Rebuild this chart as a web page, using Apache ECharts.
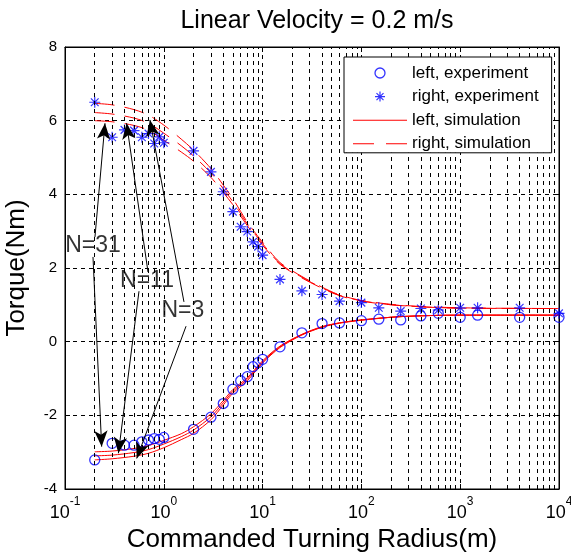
<!DOCTYPE html>
<html>
<head>
<meta charset="utf-8">
<script src="https://cdn.jsdelivr.net/npm/echarts@6/dist/echarts.min.js"></script>
<style>
  html, body { margin: 0; padding: 0; background: #fff; }
  #chart { width: 571px; height: 554px; }
</style>
</head>
<body>
<div id="chart"></div>
<script>
// Commanded turning radius (m) of each experiment run
const radius = [0.2, 0.3, 0.4, 0.5, 0.6, 0.7, 0.8, 0.9, 1,
                2, 3, 4, 5, 6, 7, 8, 9, 10,
                15, 25, 40, 60, 100, 150, 250, 400, 600, 1000, 1500, 4000, 10000];
// Measured wheel torque (Nm)
const leftExperiment = [-3.21, -2.76, -2.81, -2.81, -2.72, -2.67, -2.63, -2.65, -2.60,
                        -2.38, -2.05, -1.68, -1.29, -1.06, -0.95, -0.68, -0.57, -0.48,
                        -0.14, 0.24, 0.49, 0.51, 0.57, 0.61, 0.59, 0.70, 0.77, 0.66, 0.72, 0.66, 0.66];
const rightExperiment = [6.50, 5.55, 5.75, 5.73, 5.55, 5.65, 5.38, 5.56, 5.40,
                         5.18, 4.61, 4.07, 3.53, 3.12, 2.99, 2.71, 2.58, 2.35,
                         1.69, 1.38, 1.28, 1.10, 1.06, 0.92, 0.83, 0.90, 0.86, 0.92, 0.92, 0.92, 0.77];

// Simulated torque for N = 3, 11, 31
const simRadius = [0.2, 0.3, 0.5, 0.7, 1, 1.5, 2, 3, 4, 5, 7, 10, 15, 25, 40, 60, 100, 250, 1000, 10000];
const rightSimN3  = [6.47, 6.43, 6.30, 6.15, 5.88, 5.50, 5.20, 4.70, 4.25, 3.88, 3.25, 2.70, 2.15, 1.77, 1.48, 1.27, 1.12, 0.99, 0.92, 0.90];
const rightSimN11 = [6.22, 6.18, 6.07, 5.93, 5.66, 5.32, 5.04, 4.58, 4.15, 3.80, 3.20, 2.66, 2.12, 1.75, 1.46, 1.26, 1.11, 0.98, 0.91, 0.90];
const rightSimN31 = [6.00, 5.97, 5.87, 5.74, 5.47, 5.15, 4.90, 4.46, 4.05, 3.72, 3.15, 2.62, 2.10, 1.73, 1.45, 1.25, 1.10, 0.98, 0.91, 0.90];
const leftSimN31  = [-2.99, -2.97, -2.90, -2.82, -2.68, -2.50, -2.31, -1.96, -1.60, -1.30, -0.98, -0.52, -0.12, 0.20, 0.41, 0.51, 0.59, 0.68, 0.72, 0.72];
const leftSimN11  = [-3.10, -3.08, -3.01, -2.93, -2.78, -2.58, -2.40, -2.04, -1.66, -1.35, -1.02, -0.55, -0.14, 0.19, 0.40, 0.51, 0.59, 0.68, 0.72, 0.72];
const leftSimN3   = [-3.21, -3.18, -3.11, -3.03, -2.88, -2.66, -2.49, -2.12, -1.72, -1.40, -1.06, -0.58, -0.16, 0.18, 0.39, 0.50, 0.58, 0.68, 0.72, 0.72];

// Curve labels and the arrows that point from them to the curves
const curveLabels = [
  { text: 'N=31', at: [0.192, 2.60] },
  { text: 'N=11', at: [0.676, 1.65] },
  { text: 'N=3',  at: [1.56, 0.83] }
];
const arrows = [
  [[0.201, 2.84], [0.254, 5.93]],
  [[0.192, 2.30], [0.235, -2.85]],
  [[0.692, 1.89], [0.42, 5.93]],
  [[0.561, 1.37], [0.347, -3.03]],
  [[1.60, 1.08], [0.724, 6.02]],
  [[1.68, 0.42], [0.532, -3.17]]
];

// Tick values
const yTicks = { min: -4, max: 8, step: 2 };
const xDecades = [0.1, 1, 10, 100, 1000, 10000];

const FONT = 'Liberation Sans, Arial, Helvetica, sans-serif';
const BLUE = '#0000ff';
const RED = '#ff0000';
const STAR = 'path://M0,-10L0,10M-10,0L10,0M-7,-7L7,7M-7,7L7,-7';
const SOLID_ICON = 'path://M0,0H54V1H0Z';
const DASHED_ICON = 'path://M0,0H21V1H0ZM33,0H54V1H33Z';

// Minor grid lines inside each decade (2..9 x 10^k)
const minorGrid = [];
for (let d = 0; d < xDecades.length - 1; d++) {
  for (let k = 2; k <= 9; k++) minorGrid.push({ xAxis: +(xDecades[d] * k).toPrecision(3) });
}

const zip = (xs, ys) => xs.map((x, i) => [x, ys[i]]);

const simSeries = (name, ys, dashed) => ({
  name: name,
  type: 'line',
  data: zip(simRadius, ys),
  smooth: 0.3,
  symbol: 'none',
  z: 3,
  lineStyle: { color: RED, width: 1, type: dashed ? [20, 10] : 'solid' },
  itemStyle: { color: RED }
});

const frameAxis = {
  axisLine: { show: true, onZero: false, lineStyle: { color: '#000', width: 1 } },
  axisTick: { show: true, inside: true, length: 5, lineStyle: { color: '#000' } }
};

const chart = echarts.init(document.getElementById('chart'), null, { renderer: 'canvas' });

chart.setOption({
  animation: false,
  backgroundColor: '#fff',
  textStyle: { fontFamily: FONT, color: '#000' },
  title: {
    text: 'Linear Velocity = 0.2 m/s',
    left: 312, top: 4, textAlign: 'center',
    textStyle: { fontFamily: FONT, fontSize: 25, fontWeight: 'normal', color: '#000' }
  },
  grid: { left: 65, right: 12, top: 47, bottom: 65, containLabel: false, outerBoundsMode: 'none',
          show: true, borderColor: '#000', borderWidth: 1 },
  legend: {
    orient: 'vertical',
    left: 344, top: 57,
    z: 20,
    padding: [7, 13, 0, 9],
    itemGap: 5.6,
    itemWidth: 54, itemHeight: 10,
    backgroundColor: '#fff',
    borderColor: '#000', borderWidth: 1,
    textStyle: { fontFamily: FONT, fontSize: 17, color: '#000', lineHeight: 18 },
    selectedMode: false,
    data: [
      { name: 'left, experiment', icon: 'circle', itemStyle: { color: 'none', borderColor: BLUE, borderWidth: 1.3 } },
      { name: 'right, experiment', icon: STAR, itemStyle: { color: 'none', borderColor: BLUE, borderWidth: 1.2 } },
      { name: 'left, simulation', icon: SOLID_ICON, itemStyle: { color: RED, borderWidth: 0 } },
      { name: 'right, simulation', icon: DASHED_ICON, itemStyle: { color: RED, borderWidth: 0 } }
    ]
  },
  xAxis: [Object.assign({
    type: 'log', logBase: 10, min: xDecades[0], max: xDecades[xDecades.length - 1],
    position: 'bottom',
    name: 'Commanded Turning Radius(m)', nameLocation: 'middle', nameGap: 35,
    nameTextStyle: { fontFamily: FONT, fontSize: 26, color: '#000' },
    axisLabel: {
      margin: 7, color: '#000',
      formatter: v => '{b|10}{e|' + Math.round(Math.log10(v)) + '}',
      rich: {
        b: { fontFamily: FONT, fontSize: 18, lineHeight: 26, verticalAlign: 'bottom', color: '#000' },
        e: { fontFamily: FONT, fontSize: 12, lineHeight: 12, verticalAlign: 'top', color: '#000' }
      }
    },
    splitLine: { show: true, lineStyle: { color: '#000', width: 1, type: [4, 4] } }
  }, frameAxis), Object.assign({
    type: 'log', logBase: 10, min: xDecades[0], max: xDecades[xDecades.length - 1],
    position: 'top',
    axisLabel: { show: false },
    splitLine: { show: false }
  }, frameAxis)],
  yAxis: [Object.assign({
    type: 'value', min: yTicks.min, max: yTicks.max, interval: yTicks.step,
    position: 'left',
    name: 'Torque(Nm)', nameLocation: 'middle', nameGap: 35, nameRotate: 90,
    nameTextStyle: { fontFamily: FONT, fontSize: 26, color: '#000' },
    axisLabel: { margin: 8, color: '#000', fontFamily: FONT, fontSize: 15 },
    splitLine: { show: true, lineStyle: { color: '#000', width: 1, type: [4, 4] } }
  }, frameAxis), Object.assign({
    type: 'value', min: yTicks.min, max: yTicks.max, interval: yTicks.step,
    position: 'right',
    axisLabel: { show: false },
    splitLine: { show: false }
  }, frameAxis)],
  series: [
    {
      name: 'minor grid',
      type: 'line',
      data: [],
      z: 0,
      silent: true,
      markLine: {
        silent: true,
        symbol: ['none', 'none'],
        label: { show: false },
        lineStyle: { color: '#000', width: 1, type: [4, 4] },
        data: minorGrid
      }
    },
    simSeries('left, simulation', leftSimN31, false),
    simSeries('left, simulation', leftSimN11, false),
    simSeries('left, simulation', leftSimN3, false),
    simSeries('right, simulation', rightSimN31, true),
    simSeries('right, simulation', rightSimN11, true),
    simSeries('right, simulation', rightSimN3, true),
    {
      name: 'left, experiment',
      type: 'scatter',
      data: zip(radius, leftExperiment),
      symbol: 'circle',
      symbolSize: 10,
      z: 4,
      itemStyle: { color: 'none', borderColor: BLUE, borderWidth: 1.3 }
    },
    {
      name: 'right, experiment',
      type: 'scatter',
      data: zip(radius, rightExperiment),
      symbol: STAR,
      symbolSize: 11,
      z: 4,
      itemStyle: { color: 'none', borderColor: BLUE, borderWidth: 1.2 }
    },
    {
      name: 'curve labels',
      type: 'scatter',
      z: 6,
      silent: true,
      symbolSize: 0,
      data: curveLabels.map(c => ({ value: c.at, name: c.text })),
      label: {
        show: true, position: 'inside',
        formatter: p => p.name,
        fontFamily: FONT, fontSize: 23, color: '#000'
      },
      markLine: {
        silent: true,
        symbol: ['none', 'arrow'],
        symbolSize: [0, 16],
        label: { show: false },
        lineStyle: { color: '#000', width: 1, type: 'solid' },
        itemStyle: { color: '#000' },
        data: arrows.map(a => [{ coord: a[0] }, { coord: a[1], symbolSize: [10, 16] }])
      }
    }
  ]
});
</script>
</body>
</html>
